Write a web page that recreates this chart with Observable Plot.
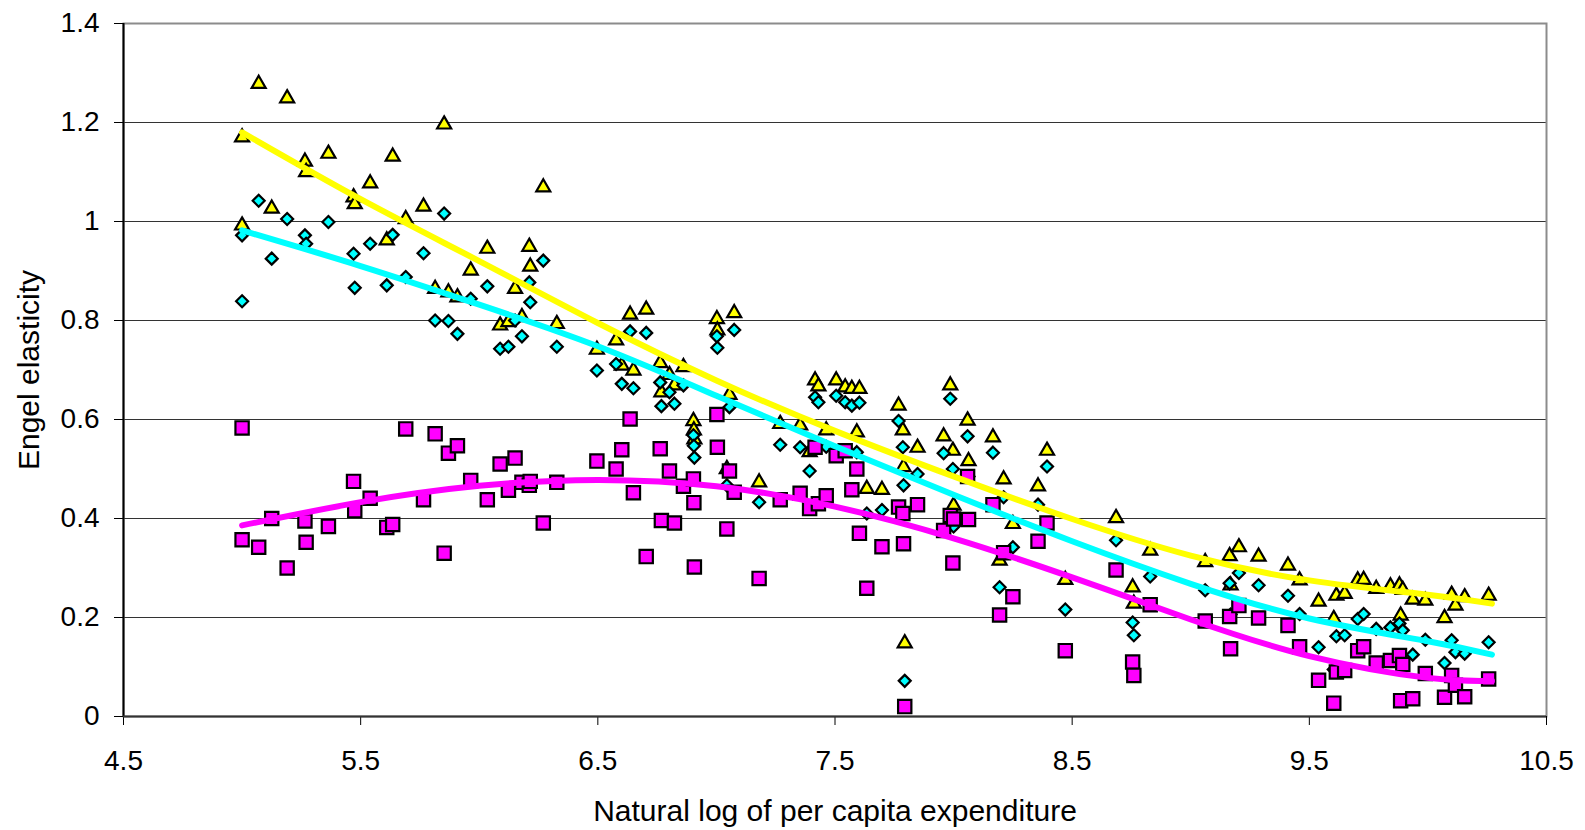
<!DOCTYPE html>
<html>
<head>
<meta charset="utf-8">
<script src="https://cdn.jsdelivr.net/npm/d3@7"></script>
<script src="https://cdn.jsdelivr.net/npm/@observablehq/plot@0.6"></script>
<style>
  html, body { margin: 0; padding: 0; background: #ffffff; }
</style>
</head>
<body>
<script>
// Natural log of per capita expenditure (one entry per observation)
const lnExpenditure = [5.00,5.00,5.07,5.125,5.19,5.265,5.27,5.364,5.47,5.475,5.54,5.61,5.635,5.69,5.765,5.814,5.852,5.87,5.908,5.964,6.034,6.088,6.123,6.151,6.18,6.211,6.215,6.27,6.327,6.496,6.577,6.601,6.636,6.65,6.704,6.763,6.768,6.802,6.823,6.861,6.903,6.905,6.907,7.002,7.004,7.044,7.055,7.075,7.18,7.269,7.353,7.393,7.416,7.43,7.463,7.505,7.543,7.571,7.592,7.603,7.634,7.698,7.768,7.786,7.789,7.794,7.848,7.958,7.986,7.997,8.0,8.059,8.063,8.166,8.194,8.211,8.25,8.356,8.394,8.471,8.685,8.755,8.76,8.829,9.061,9.164,9.168,9.203,9.286,9.41,9.459,9.539,9.603,9.614,9.649,9.704,9.729,9.782,9.842,9.88,9.894,9.885,9.936,9.989,10.07,10.1,10.116,10.155,10.256];

// Engel elasticity, triangle series
const elasticityA = [1.170,0.992,1.278,1.026,1.249,1.121,1.100,1.137,1.049,1.035,1.077,0.962,1.131,1.005,1.030,0.864,1.196,0.857,0.847,0.901,0.945,0.790,0.797,0.864,0.807,0.949,0.909,1.069,0.793,0.741,0.760,0.709,0.812,0.699,0.822,0.714,0.655,0.690,0.669,0.706,0.597,0.578,0.560,0.803,0.780,0.500,0.650,0.815,0.473,0.591,0.588,0.534,0.679,0.667,0.578,0.679,0.665,0.662,0.574,0.662,0.460,0.458,0.628,0.578,0.504,0.148,0.543,0.566,0.669,0.537,0.426,0.598,0.516,0.564,0.315,0.479,0.389,0.465,0.537,0.276,0.401,0.261,0.228,0.335,0.312,0.324,0.265,0.342,0.323,0.305,0.275,0.232,0.197,0.244,0.248,0.275,0.276,0.258,0.263,0.265,0.256,0.204,0.236,0.234,0.199,0.246,0.224,0.241,0.244];

// Engel elasticity, diamond series
const elasticityB = [0.972,0.839,1.042,0.925,1.005,0.972,0.955,0.999,0.935,0.866,0.955,0.871,0.973,0.888,0.936,0.800,1.016,0.799,0.773,0.844,0.869,0.743,0.747,0.800,0.768,0.877,0.837,0.921,0.747,0.699,0.712,0.672,0.778,0.663,0.775,0.675,0.627,0.655,0.632,0.669,0.568,0.547,0.523,0.768,0.745,0.467,0.625,0.781,0.433,0.549,0.544,0.496,0.645,0.635,0.545,0.648,0.635,0.628,0.534,0.634,0.410,0.417,0.597,0.544,0.467,0.072,0.490,0.532,0.642,0.500,0.384,0.566,0.485,0.533,0.261,0.443,0.342,0.428,0.505,0.216,0.356,0.190,0.164,0.283,0.255,0.269,0.206,0.290,0.265,0.244,0.207,0.140,0.095,0.162,0.164,0.197,0.207,0.177,0.180,0.188,0.174,0.106,0.125,0.155,0.108,0.154,0.130,0.127,0.150];

// Engel elasticity, square series
const elasticityC = [0.583,0.357,0.342,0.400,0.300,0.395,0.352,0.384,0.475,0.416,0.441,0.382,0.388,0.581,0.438,0.571,0.330,0.532,0.547,0.477,0.438,0.510,0.457,0.522,0.473,0.467,0.475,0.391,0.473,0.516,0.500,0.539,0.601,0.452,0.323,0.541,0.396,0.496,0.391,0.465,0.480,0.432,0.302,0.610,0.544,0.379,0.496,0.453,0.279,0.438,0.451,0.420,0.544,0.430,0.446,0.527,0.537,0.458,0.500,0.370,0.259,0.343,0.423,0.410,0.349,0.020,0.428,0.376,0.406,0.310,0.399,0.485,0.398,0.428,0.205,0.331,0.242,0.354,0.391,0.133,0.296,0.110,0.083,0.226,0.193,0.202,0.137,0.224,0.199,0.184,0.141,0.073,0.027,0.090,0.093,0.133,0.141,0.108,0.113,0.123,0.105,0.032,0.036,0.087,0.039,0.083,0.063,0.040,0.076];

// Trend lines
const trendX = [5.0, 5.5, 6.0, 6.5, 7.0, 7.5, 8.0, 8.5, 9.0, 9.5, 10.0, 10.27];
const trendA = [1.180, 1.045, 0.920, 0.795, 0.679, 0.577, 0.485, 0.399, 0.325, 0.275, 0.246, 0.228];
const trendB = [0.982, 0.910, 0.832, 0.748, 0.648, 0.546, 0.448, 0.354, 0.268, 0.198, 0.152, 0.125];
const trendC = [0.386, 0.433, 0.466, 0.478, 0.465, 0.424, 0.360, 0.281, 0.196, 0.122, 0.078, 0.072];

// Axis ticks and titles
const xTicks = [4.5, 5.5, 6.5, 7.5, 8.5, 9.5, 10.5];
const yTicks = [0, 0.2, 0.4, 0.6, 0.8, 1, 1.2, 1.4];
const xTitle = "Natural log of per capita expenditure";
const yTitle = "Engel elasticity";

const obs = lnExpenditure.map((x, i) => ({x, a: elasticityA[i], b: elasticityB[i], c: elasticityC[i]}));
const trend = trendX.map((x, i) => ({x, a: trendA[i], b: trendB[i], c: trendC[i]}));

const chart = Plot.plot({
  width: 1585,
  height: 830,
  marginLeft: 123,
  marginRight: 39,
  marginTop: 23,
  marginBottom: 114,
  style: {fontFamily: "'Liberation Sans', Arial, sans-serif", fontSize: "28px", background: "#ffffff", color: "#000"},
  x: {domain: [4.5, 10.5]},
  y: {domain: [0, 1.4]},
  marks: [
    Plot.ruleY(yTicks.filter(d => d > 0 && d < 1.4), {stroke: "#000", strokeOpacity: 0.8, strokeWidth: 1}),
    Plot.frame({stroke: "#8c8c8c", strokeWidth: 2}),
    Plot.axisY(yTicks, {tickSize: 9, tickPadding: 15, tickFormat: d => String(d), label: null, fontSize: 28, stroke: "#000"}),
    Plot.axisX(xTicks, {tickSize: 9, tickPadding: 25, tickFormat: d => String(d), label: null, fontSize: 28, stroke: "#000"}),
    Plot.ruleX([4.5], {stroke: "#000", strokeWidth: 2}),
    Plot.ruleY([0], {stroke: "#333", strokeWidth: 2}),
    Plot.dot(obs, {x: "x", y: "a", symbol: "triangle", r: 5.2, fill: "#ffff00", stroke: "#000", strokeWidth: 2.2}),
    Plot.dot(obs, {x: "x", y: "b", symbol: "diamond2", r: 5.4, fill: "#00ffff", stroke: "#000", strokeWidth: 2.2}),
    Plot.dot(obs, {x: "x", y: "c", symbol: "square", r: 7.5, fill: "#ff00ff", stroke: "#000", strokeWidth: 2.2}),
    Plot.line(trend, {x: "x", y: "c", curve: "natural", stroke: "#ff00ff", strokeWidth: 6, strokeLinecap: "round"}),
    Plot.line(trend, {x: "x", y: "b", curve: "natural", stroke: "#00ffff", strokeWidth: 6, strokeLinecap: "round"}),
    Plot.line(trend, {x: "x", y: "a", curve: "natural", stroke: "#ffff00", strokeWidth: 6, strokeLinecap: "round"}),
    Plot.text([xTitle], {frameAnchor: "bottom", textAnchor: "middle", dy: 104, lineAnchor: "bottom", fontSize: 30, fill: "#000"}),
    Plot.text([yTitle], {frameAnchor: "left", textAnchor: "middle", dx: -85, rotate: -90, lineAnchor: "bottom", fontSize: 30, fill: "#000"})
  ]
});

document.body.appendChild(chart);
</script>
</body>
</html>
